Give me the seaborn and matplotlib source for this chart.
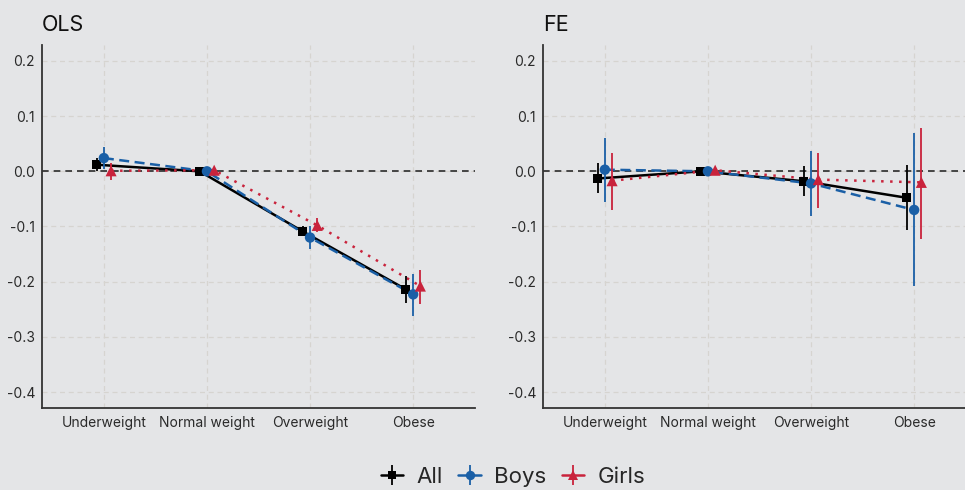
import numpy as np
import pandas as pd
import matplotlib
matplotlib.use("Agg")
import matplotlib.pyplot as plt
from matplotlib.lines import Line2D
from matplotlib.legend_handler import HandlerTuple
import seaborn as sns

# Weight categories (Normal weight is the reference group)
categories = ["Underweight", "Normal weight", "Overweight", "Obese"]
groups = ["All", "Boys", "Girls"]

# OLS estimates and 95% confidence bounds
ols_all_est = [0.012, 0.0, -0.109, -0.214]
ols_all_lo = [0.000, 0.0, -0.118, -0.238]
ols_all_hi = [0.025, 0.0, -0.100, -0.190]
ols_boys_est = [0.024, 0.0, -0.120, -0.223]
ols_boys_lo = [0.005, 0.0, -0.140, -0.263]
ols_boys_hi = [0.044, 0.0, -0.100, -0.186]
ols_girls_est = [0.001, 0.002, -0.098, -0.208]
ols_girls_lo = [-0.015, 0.002, -0.110, -0.240]
ols_girls_hi = [0.016, 0.002, -0.085, -0.178]

# Fixed-effects estimates and 95% confidence bounds
fe_all_est = [-0.013, 0.0, -0.018, -0.048]
fe_all_lo = [-0.040, 0.0, -0.045, -0.107]
fe_all_hi = [0.015, 0.0, 0.009, 0.011]
fe_boys_est = [0.003, 0.0, -0.022, -0.070]
fe_boys_lo = [-0.056, 0.0, -0.081, -0.208]
fe_boys_hi = [0.060, 0.0, 0.037, 0.069]
fe_girls_est = [-0.017, 0.002, -0.015, -0.020]
fe_girls_lo = [-0.070, 0.002, -0.066, -0.122]
fe_girls_hi = [0.033, 0.002, 0.033, 0.078]

y_ticks = [0.2, 0.1, 0.0, -0.1, -0.2, -0.3, -0.4]


def make_frame(series):
    rows = []
    for g, (est, lo, hi) in zip(groups, series):
        for i, c in enumerate(categories):
            rows.append({"group": g, "category": c, "cat_idx": i,
                         "est": est[i], "lo": lo[i], "hi": hi[i]})
    return pd.DataFrame(rows)


ols_df = make_frame([(ols_all_est, ols_all_lo, ols_all_hi),
                     (ols_boys_est, ols_boys_lo, ols_boys_hi),
                     (ols_girls_est, ols_girls_lo, ols_girls_hi)])
fe_df = make_frame([(fe_all_est, fe_all_lo, fe_all_hi),
                    (fe_boys_est, fe_boys_lo, fe_boys_hi),
                    (fe_girls_est, fe_girls_lo, fe_girls_hi)])

palette = {"All": "#000000", "Boys": "#1a5fa6", "Girls": "#c9233c"}
markers = {"All": "s", "Boys": "o", "Girls": "^"}
marker_sizes = {"All": 6.5, "Boys": 7.5, "Girls": 8}
dashes = {"All": "", "Boys": (4, 2.2), "Girls": (1, 2.6)}
offsets = {"All": -0.07, "Boys": 0.0, "Girls": 0.07}

bg = "#e4e5e7"
sns.set_theme(style="white")
plt.rcParams["font.family"] = ["Inter", "DejaVu Sans"]
plt.rcParams["axes.unicode_minus"] = False

fig = plt.figure(figsize=(9.65, 4.9), dpi=100, facecolor=bg)
ax_ols = fig.add_axes([42 / 965, 1 - 408 / 490, 433 / 965, 363 / 490])
ax_fe = fig.add_axes([543 / 965, 1 - 408 / 490, 433 / 965, 363 / 490])


def draw_panel(ax, df, title):
    ax.set_facecolor(bg)
    df = df.copy()
    df["x"] = df["cat_idx"] + df["group"].map(offsets)

    ax.axhline(0, color="#2b2b2b", lw=1.2, ls=(0, (4, 3)), zorder=1)

    for g in groups:
        sub = df[df["group"] == g]
        ax.vlines(sub["x"], sub["lo"], sub["hi"], color=palette[g], lw=1.3, zorder=3)

    sns.lineplot(data=df, x="x", y="est", hue="group", style="group",
                 palette=palette, dashes=dashes, markers=False,
                 linewidth=1.8, legend=False, ax=ax, zorder=2, sort=True)
    for g in groups:
        sub = df[df["group"] == g]
        sns.scatterplot(x=sub["x"], y=sub["est"], color=palette[g],
                        marker=markers[g], s=marker_sizes[g] ** 2,
                        edgecolor="none", linewidth=0, legend=False,
                        ax=ax, zorder=4)

    ax.set_xlim(-0.6, 3.6)
    ax.set_ylim(-0.429, 0.229)
    ax.set_xticks(range(len(categories)))
    ax.set_xticklabels(categories)
    ax.set_yticks(y_ticks)
    ax.set_yticklabels([f"{t:.1f}" for t in y_ticks])
    ax.grid(True, color="#d6d4d0", lw=0.9, ls=(0, (4, 3)))
    ax.set_axisbelow(True)
    for s in ["top", "right"]:
        ax.spines[s].set_visible(False)
    for s in ["left", "bottom"]:
        ax.spines[s].set_color("#333333")
        ax.spines[s].set_linewidth(1.3)
    ax.tick_params(axis="both", colors="#333333", labelcolor="#2a2a2a",
                   labelsize=10, length=3, width=0.8, pad=2)
    ax.tick_params(axis="x", pad=3)
    ax.set_xlabel("")
    ax.set_ylabel("")
    ax.set_title(title, loc="left", fontsize=15.5, color="#111111", pad=10, x=0.0)


draw_panel(ax_ols, ols_df, "OLS")
draw_panel(ax_fe, fe_df, "FE")

# Legend keys: vertical range bar overlaid on a marker with a short line segment
handles = []
for g in groups:
    bar = Line2D([], [], color=palette[g], marker="|", markersize=15,
                 markeredgewidth=1.3, linestyle="none")
    pt = Line2D([], [], color=palette[g], marker=markers[g],
                markersize=marker_sizes[g] * 0.9, linestyle="-", lw=1.8,
                markeredgewidth=0)
    handles.append((bar, pt))

fig.legend(handles, groups, loc="center", bbox_to_anchor=(513 / 965, 1 - 477 / 490),
           ncol=3, frameon=False, fontsize=16, handlelength=1.0,
           handletextpad=0.6, columnspacing=0.7, borderpad=0.1,
           handler_map={tuple: HandlerTuple(ndivide=1, pad=0)})

fig.savefig("out.png", dpi=100, facecolor=bg)
